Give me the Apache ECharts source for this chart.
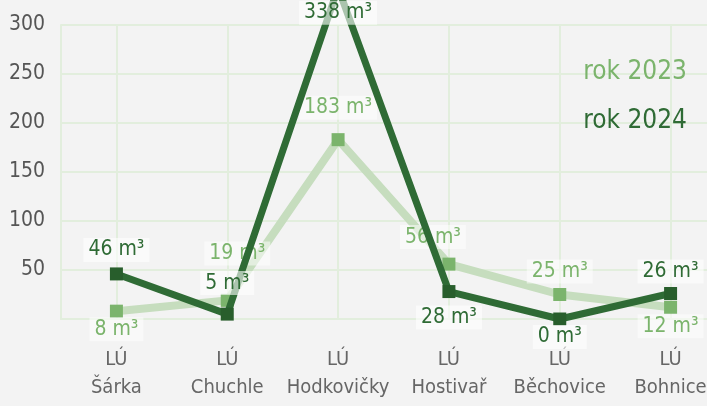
<!DOCTYPE html>
<html>
<head>
<meta charset="utf-8">
<script src="https://cdn.jsdelivr.net/npm/echarts@6/dist/echarts.min.js"></script>
<style>
  html, body { margin: 0; padding: 0; background: #f3f3f3; }
  #chart { width: 707px; height: 406px; }
</style>
</head>
<body>
<div id="chart"></div>
<script>
// data
var categories = ['LÚ\nŠárka', 'LÚ\nChuchle', 'LÚ\nHodkovičky', 'LÚ\nHostivař', 'LÚ\nBěchovice', 'LÚ\nBohnice']
var values2023 = [8, 19, 183, 56, 25, 12]
var values2024 = [46, 5, 338, 28, 0, 26]
var seriesNames = ['rok 2023', 'rok 2024']

// label offsets from the marker centre (layout only)
var offsets2023 = [[0, 18], [10, -47], [0, -32], [-16, -27], [0, -23], [0, 19]]
var offsets2024 = [[0, -24], [0, -31], [0, 25], [0, 26], [0, 18], [0, -22]]

var FONT = "'DejaVu Sans Condensed', 'DejaVu Sans', sans-serif"
var LIGHT = '#7bb46c'
var DARK = '#2f6b35'
var GRIDLINE = '#e2eedd'

function buildData(values, offsets) {
  return values.map(function(v, i) {
    return {
      value: v,
      label: { offset: offsets[i] }
    }
  })
}

var chart = echarts.init(document.getElementById('chart'))

var option = {
  animation: false,
  backgroundColor: '#f3f3f3',
  grid: {
    top: 25,
    left: 61,
    width: 665,
    bottom: 87,
    containLabel: false,
    outerBoundsMode: 'none'
  },
  legend: {
    orient: 'vertical',
    right: 15,
    top: 54,
    icon: 'none',
    itemWidth: 0,
    itemGap: 23,
    selectedMode: false,
    data: [
      { name: seriesNames[0], textStyle: { color: LIGHT } },
      { name: seriesNames[1], textStyle: { color: DARK } }
    ],
    textStyle: {
      fontFamily: FONT,
      fontSize: 26
    }
  },
  xAxis: {
    type: 'category',
    data: categories,
    boundaryGap: true,
    axisLine: { show: true, lineStyle: { color: GRIDLINE, width: 2 } },
    axisTick: { show: false },
    axisLabel: {
      interval: 0,
      color: '#666',
      fontFamily: FONT,
      fontSize: 20,
      lineHeight: 28,
      margin: 27
    },
    splitLine: {
      show: true,
      interval: 0,
      alignWithLabel: true,
      lineStyle: { color: GRIDLINE, width: 2 }
    }
  },
  yAxis: {
    type: 'value',
    min: 0,
    max: 300,
    interval: 50,
    axisLine: { show: true, lineStyle: { color: GRIDLINE, width: 2 } },
    axisTick: { show: false },
    axisLabel: {
      color: '#555',
      fontFamily: FONT,
      fontSize: 21,
      margin: 16,
      formatter: function(v) {
        return v === 0 ? '' : v
      }
    },
    splitLine: {
      lineStyle: { color: GRIDLINE, width: 2 }
    }
  },
  series: [
    {
      name: seriesNames[0],
      type: 'line',
      data: buildData(values2023, offsets2023),
      symbol: 'rect',
      symbolSize: 13,
      clip: false,
      z: 2,
      lineStyle: { color: '#c6ddbe', width: 8 },
      itemStyle: { color: LIGHT },
      label: {
        show: true,
        position: 'inside',
        formatter: '{c} m³',
        color: LIGHT,
        fontFamily: FONT,
        fontSize: 21,
        backgroundColor: 'rgba(255,255,255,0.5)',
        padding: [2, 5, 1, 5]
      }
    },
    {
      name: seriesNames[1],
      type: 'line',
      data: buildData(values2024, offsets2024),
      symbol: 'rect',
      symbolSize: 13,
      clip: false,
      z: 3,
      lineStyle: { color: DARK, width: 7 },
      itemStyle: { color: '#285e2c' },
      label: {
        show: true,
        position: 'inside',
        formatter: '{c} m³',
        color: DARK,
        fontFamily: FONT,
        fontSize: 21,
        backgroundColor: 'rgba(255,255,255,0.6)',
        padding: [2, 5, 1, 5]
      }
    }
  ]
}

chart.setOption(option)
</script>
</body>
</html>
